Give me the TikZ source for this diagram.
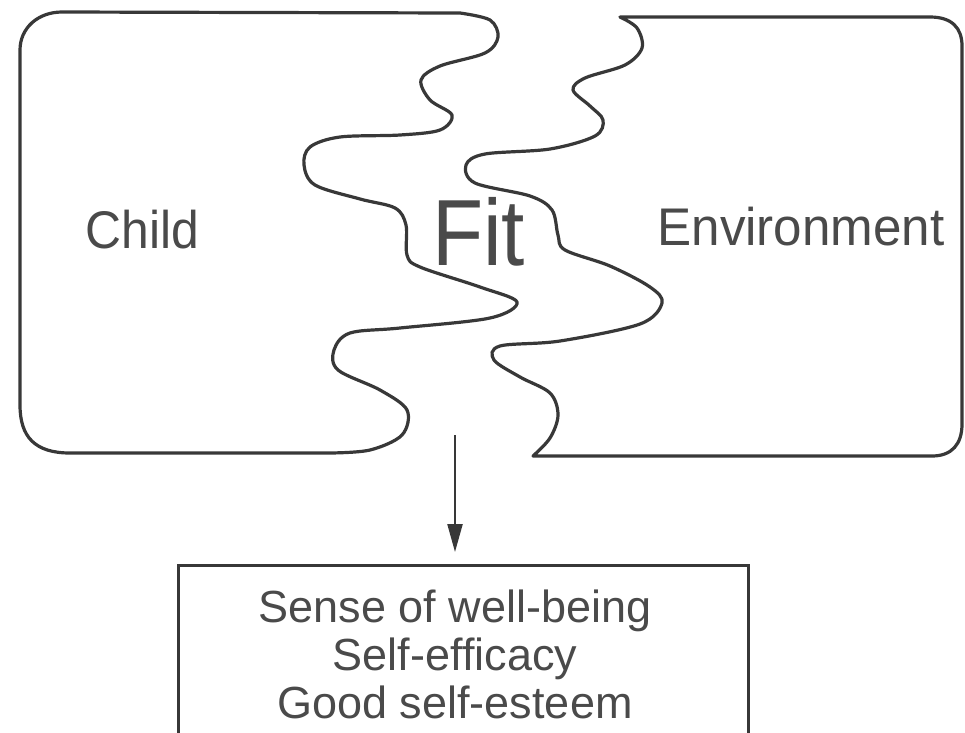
\documentclass[tikz,border=0pt]{standalone}
\usepackage{fontspec}
\setmainfont{Liberation Sans}
\usetikzlibrary{arrows.meta}
\definecolor{inkline}{HTML}{383838}
\definecolor{inktext}{HTML}{4A4A4A}
\tikzset{
  blob/.style={draw=inkline, line width=3.2pt, line join=round, line cap=round},
  wavy/.style={smooth, tension=0.55},
  biglabel/.style={text=inktext, inner sep=0pt, anchor=base, font=\fontsize{53}{60}\selectfont},
  fitlabel/.style={text=inktext, inner sep=0pt, anchor=base, font=\fontsize{94}{100}\selectfont},
  outbox/.style={draw=inkline, line width=2.8pt, inner sep=0pt, anchor=north west},
  outtext/.style={text=inktext, inner sep=0pt, align=center, font=\fontsize{45}{48}\selectfont},
  flowarrow/.style={draw=inkline, line width=2.2pt, -{Triangle[length=28pt,width=15pt]}}
}
\begin{document}
\begin{tikzpicture}[x=1pt,y=-1pt]
\useasboundingbox (0,0) rectangle (965,732);
\clip (0,0) rectangle (965,732);
\fill[white] (0,0) rectangle (965,732);

% Child shape
\draw[blob] plot[wavy] coordinates {
  (460,13) (490,20) (498,37) (485,53) (440,66) (421,80) (430,100) (452,115)
  (440,130) (400,135) (340,137) (310,147) (304,165) (315,185) (360,199)
  (395,208) (406,225) (407,255) (420,267) (480,287) (517,302) (490,318)
  (400,328) (350,333) (334,350) (338,370) (380,390) (407,410) (402,435)
  (370,450) (330,453)}
  -- (70,453) .. controls (35,453) and (20,437) .. (20,405)
  -- (20,50) .. controls (20,28) and (38,12) .. (62,12) -- cycle;

% Environment shape
\draw[blob] plot[wavy] coordinates {
  (620,17) (637,28) (642,48) (625,65) (585,78) (573,90) (590,106) (603,120)
  (595,136) (550,149) (485,154) (466,165) (475,183) (530,196) (552,210)
  (558,235) (565,250) (610,266) (650,287) (662,303) (640,324) (560,341)
  (500,346) (494,360) (520,377) (550,393) (558,415) (550,438) (533,456)}
  -- (932,456) .. controls (952,456) and (962,444) .. (962,424)
  -- (962,46) .. controls (962,28) and (952,17) .. (930,17) -- cycle;

% labels
\node[biglabel] (child) at (142.5,248) {\scalebox{0.94}[1]{Child}};
\node[biglabel] (env) at (801,245) {\scalebox{0.965}[1]{Environment}};
\node[fitlabel] (fit) at (478.5,265) {\scalebox{0.89}[1]{Fit}};

% outcome box
\node[outbox, minimum width=570pt, minimum height=200pt] (box) at (177,564) {};
\node[outtext, anchor=base] (outcomes) at (455,718) {Sense of well-being\\Self-efficacy\\Good self-esteem};

% arrow
\coordinate (src) at (455,435);
\draw[flowarrow, shorten >=12pt] (src) -- (src |- box.north);
\end{tikzpicture}
\end{document}
